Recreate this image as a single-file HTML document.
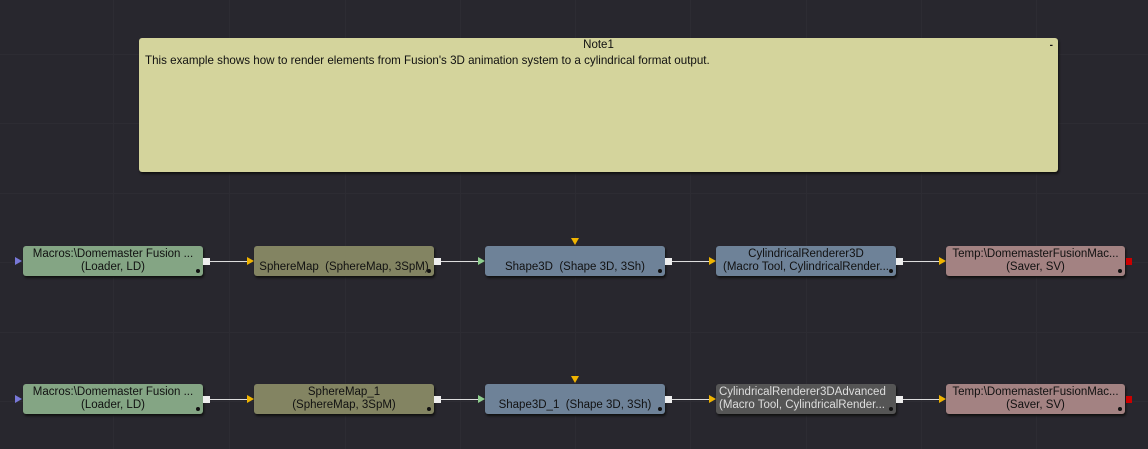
<!DOCTYPE html>
<html><head><meta charset="utf-8"><style>
body{margin:0;width:1148px;height:449px;overflow:hidden;background:#28272e;font-family:"Liberation Sans",sans-serif;position:relative}
.g{position:absolute;background:#2d2c33}
.note{position:absolute;left:139px;top:38px;width:919px;height:134px;background:#d4d49c;border-radius:3px;box-shadow:1px 2px 2px #111}
.note .t{position:absolute;top:1px;left:0;right:0;text-align:center;font-size:11.5px;color:#111}
.note .b{position:absolute;top:16px;left:6px;font-size:11.6px;color:#111;letter-spacing:0}
.note .m{position:absolute;right:5px;top:2px;font-size:10px;color:#111;font-weight:bold}
.n{position:absolute;width:180px;height:30px;border-radius:3px;box-shadow:1px 2px 2px #111;font-size:11.5px;color:#111;text-align:center;line-height:13px;box-sizing:border-box;padding-top:2px;white-space:nowrap;overflow:hidden}
.n .d{position:absolute;right:3px;bottom:3px;width:4px;height:4px;border-radius:50%;background:#111}
.sq{position:absolute;width:7px;height:7px;background:#eee}
.ln{position:absolute;height:1px;background:#ddd}
.tri{position:absolute;width:0;height:0;border-top:4px solid transparent;border-bottom:4px solid transparent;border-left:7px solid #f0b400}
.td{position:absolute;width:0;height:0;border-left:4px solid transparent;border-right:4px solid transparent;border-top:7px solid #f0b400}
.red{position:absolute;width:6px;height:7px;background:#c00}
</style></head><body>
<div class="g" style="left:0;right:0;top:54px;height:1px"></div>
<div class="g" style="left:0;right:0;top:123px;height:1px"></div>
<div class="g" style="left:0;right:0;top:193px;height:1px"></div>
<div class="g" style="left:0;right:0;top:262px;height:1px"></div>
<div class="g" style="left:0;right:0;top:332px;height:1px"></div>
<div class="g" style="left:0;right:0;top:401px;height:1px"></div>
<div class="g" style="top:0;bottom:0;left:113px;width:1px"></div>
<div class="g" style="top:0;bottom:0;left:229px;width:1px"></div>
<div class="g" style="top:0;bottom:0;left:345px;width:1px"></div>
<div class="g" style="top:0;bottom:0;left:460px;width:1px"></div>
<div class="g" style="top:0;bottom:0;left:575px;width:1px"></div>
<div class="g" style="top:0;bottom:0;left:690px;width:1px"></div>
<div class="g" style="top:0;bottom:0;left:806px;width:1px"></div>
<div class="g" style="top:0;bottom:0;left:921px;width:1px"></div>
<div class="g" style="top:0;bottom:0;left:1036px;width:1px"></div>

<div class="note"><div class="t">Note1</div><div class="m">-</div><div class="b">This example shows how to render elements from Fusion's 3D animation system to a cylindrical format output.</div></div>

<!-- row 1 -->
<div class="tri" style="left:15px;top:257px;border-left-color:#7878d8"></div>
<div class="n" style="left:23px;top:246px;background:#84a584">Macros:\Domemaster Fusion ...<br>(Loader, LD)<div class="d"></div></div>
<div class="sq" style="left:203px;top:258px"></div><div class="ln" style="left:210px;top:261px;width:38px"></div>
<div class="tri" style="left:247px;top:257px"></div>
<div class="n" style="left:254px;top:246px;background:#838462;padding-top:15px">SphereMap&nbsp; (SphereMap, 3SpM)<div class="d"></div></div>
<div class="sq" style="left:434px;top:258px"></div><div class="ln" style="left:441px;top:261px;width:38px"></div>
<div class="tri" style="left:478px;top:257px;border-left-color:#8fcf8f"></div>
<div class="td" style="left:571px;top:238px"></div>
<div class="n" style="left:485px;top:246px;background:#6e8298;padding-top:15px">Shape3D&nbsp; (Shape 3D, 3Sh)<div class="d"></div></div>
<div class="sq" style="left:665px;top:258px"></div><div class="ln" style="left:672px;top:261px;width:38px"></div>
<div class="tri" style="left:709px;top:257px"></div>
<div class="n" style="left:716px;top:246px;background:#6e8298">CylindricalRenderer3D<br>(Macro Tool, CylindricalRender...<div class="d"></div></div>
<div class="sq" style="left:896px;top:258px"></div><div class="ln" style="left:903px;top:261px;width:37px"></div>
<div class="tri" style="left:939px;top:257px"></div>
<div class="n" style="left:946px;top:246px;width:179px;background:#a38282">Temp:\DomemasterFusionMac...<br>(Saver, SV)<div class="d"></div></div>
<div class="red" style="left:1126px;top:258px"></div>

<!-- row 2 -->
<div class="tri" style="left:15px;top:395px;border-left-color:#7878d8"></div>
<div class="n" style="left:23px;top:384px;background:#84a584">Macros:\Domemaster Fusion ...<br>(Loader, LD)<div class="d"></div></div>
<div class="sq" style="left:203px;top:396px"></div><div class="ln" style="left:210px;top:399px;width:38px"></div>
<div class="tri" style="left:247px;top:395px"></div>
<div class="n" style="left:254px;top:384px;background:#838462">SphereMap_1<br>(SphereMap, 3SpM)<div class="d"></div></div>
<div class="sq" style="left:434px;top:396px"></div><div class="ln" style="left:441px;top:399px;width:38px"></div>
<div class="tri" style="left:478px;top:395px;border-left-color:#8fcf8f"></div>
<div class="td" style="left:571px;top:376px"></div>
<div class="n" style="left:485px;top:384px;background:#6e8298;padding-top:15px">Shape3D_1&nbsp; (Shape 3D, 3Sh)<div class="d"></div></div>
<div class="sq" style="left:665px;top:396px"></div><div class="ln" style="left:672px;top:399px;width:38px"></div>
<div class="tri" style="left:709px;top:395px"></div>
<div class="n" style="left:716px;top:384px;background:#555555;color:#ddd;text-align:left;padding-left:3px">CylindricalRenderer3DAdvanced<br>(Macro Tool, CylindricalRender...<div class="d"></div></div>
<div class="sq" style="left:896px;top:396px"></div><div class="ln" style="left:903px;top:399px;width:37px"></div>
<div class="tri" style="left:939px;top:395px"></div>
<div class="n" style="left:946px;top:384px;width:179px;background:#a38282">Temp:\DomemasterFusionMac...<br>(Saver, SV)<div class="d"></div></div>
<div class="red" style="left:1126px;top:396px"></div>
</body></html>
